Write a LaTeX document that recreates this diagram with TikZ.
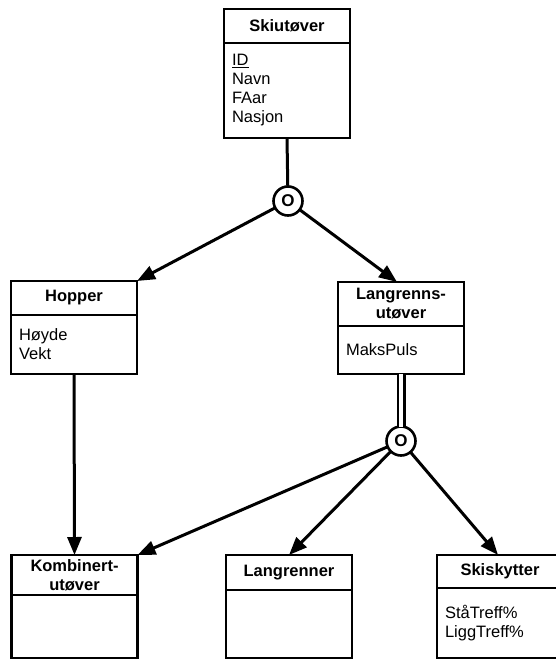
\documentclass[tikz,border=0pt]{standalone}
\usepackage{fontspec}
\setmainfont{Liberation Sans}
\usetikzlibrary{positioning,arrows.meta}

\tikzset{
  klasse/.style={draw,line width=2.6pt,outer sep=0pt,inner sep=0pt,minimum width=126pt,
    align=center,font=\fontsize{16.5}{19}\selectfont\bfseries},
  attr/.style={draw,line width=2.6pt,outer sep=0pt,inner xsep=8pt,inner ysep=0pt,
    minimum width=126pt,text width=110pt,align=left,font=\fontsize{16.5}{19}\selectfont},
  disj/.style={circle,draw,line width=2.6pt,outer sep=0pt,inner sep=0pt,minimum size=29pt,
    font=\fontsize{17}{19}\selectfont\bfseries},
  arv/.style={line width=3pt,-{Triangle[length=18pt,width=14pt]}},
}

\begin{document}
\begin{tikzpicture}[x=1pt,y=-1pt]
    \useasboundingbox (0,0) rectangle (555,660);

    % superklasse
    \node[klasse,minimum height=34pt] (skiutover) at (287,26) {Skiutøver};
    \node[attr,minimum height=95pt,below=0pt of skiutover] (skiutoverattr)
        {\underline{ID}\\Navn\\FAar\\Nasjon};
    \node[disj] (disj1) at (288,201) {O};

    % subklasser
    \node[klasse,minimum height=34pt] (hopper) at (74,298) {Hopper};
    \node[attr,minimum height=59pt,below=0pt of hopper] (hopperattr) {Høyde\\Vekt};
    \node[klasse,minimum height=44pt] (langrenns) at (401,304) {Langrenns-\\utøver};
    \node[attr,minimum height=48pt,below=0pt of langrenns] (langrennsattr) {MaksPuls};
    \node[disj] (disj2) at (401,441) {O};

    \node[klasse,minimum height=40pt] (kombinert) at (74.5,575) {Kombinert-\\utøver};
    \node[attr,minimum height=63pt,below=0pt of kombinert] (kombinertattr) {};
    \node[klasse,minimum height=35pt] (langrenner) at (289,572.5) {Langrenner};
    \node[attr,minimum height=68pt,below=0pt of langrenner] (langrennerattr) {};
    \node[klasse,minimum height=33pt,minimum width=140pt,text width=124pt] (skiskytter)
        at (507,571.5) {\hspace*{-14pt}Skiskytter};
    \node[attr,minimum height=70pt,minimum width=140pt,text width=124pt,
        below=0pt of skiskytter] (skiskytterattr) {StåTreff\%\\LiggTreff\%};

    % spesialisering
    \draw[line width=3pt] (skiutoverattr.south) -- (disj1);
    \draw[arv] (disj1) -- (hopper.north east);
    \draw[arv] (disj1) -- ([xshift=-4pt]langrenns.north);
    \draw[arv] (hopperattr.south) -- (kombinert.north);
    \draw[line width=2.5pt,double,double distance=4pt] (langrennsattr.south) -- (disj2);
    \draw[arv] (disj2) -- (kombinert.north east);
    \draw[arv] (disj2) -- (langrenner.north);
    \draw[arv] (disj2) -- ([xshift=-9pt]skiskytter.north);
\end{tikzpicture}
\end{document}
